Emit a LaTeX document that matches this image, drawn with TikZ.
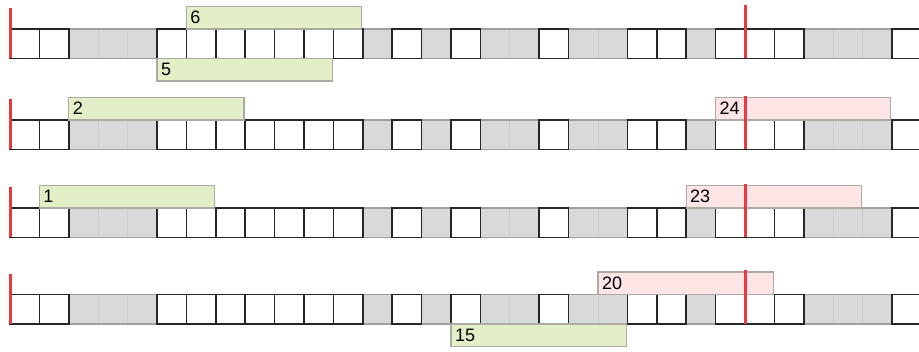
\documentclass[tikz,border=0pt]{standalone}
\usepackage{fontspec}
\setmainfont{Liberation Sans}
\usepackage{xcolor}
\usepackage{tikz}
\usetikzlibrary{positioning,calc}

\definecolor{slotgray}{HTML}{D9D9D9}
\definecolor{winred}{HTML}{E8393E}
\definecolor{boxgreen}{HTML}{E3EFC6}
\definecolor{boxpink}{HTML}{FDE4E5}
\definecolor{boxline}{HTML}{ABABA3}

\begin{document}
\begin{tikzpicture}[x=1pt, y=-1pt,
    cellw/.style={draw=black!85, line width=1.6pt, fill=white, minimum size=29.4pt, inner sep=0pt, outer sep=0pt, anchor=north west},
    cellg/.style={draw=gray!40, line width=1pt, fill=slotgray, minimum size=29.4pt, inner sep=0pt, outer sep=0pt, anchor=north west},
    rangebox/.style={draw=boxline, line width=1.2pt, minimum height=22.6pt, text width=167.2pt, inner xsep=4pt, inner ysep=0pt, outer sep=0pt, align=left, font=\fontsize{18}{18}\selectfont},
    greenbox/.style={rangebox, fill=boxgreen},
    pinkbox/.style={rangebox, fill=boxpink},
    winline/.style={winred, line width=3pt}
]
    \useasboundingbox (0,0) rectangle (919,351);

    % Rows of slots
    \foreach \r/\yt in {1/29,2/120,3/208,4/294.5} {
        \foreach \i in {2,3,4,12,14,16,17,19,20,23,27,28,29}
            \node[cellg] (c\r-\i) at ({10+\i*29.4},\yt) {};
        \draw[gray!75, line width=1.3pt] ({10+2*29.4},\yt) -- ({10+30*29.4},\yt)
            ({10+2*29.4},{\yt+29.4}) -- ({10+30*29.4},{\yt+29.4});
        \foreach \i in {0,1,5,6,7,8,9,10,11,13,15,18,21,22,24,25,26,30}
            \node[cellw] (c\r-\i) at ({10+\i*29.4},\yt) {};
    }

    % Ranges
    \node[greenbox, anchor=south west] (b6) at (c1-6.north west) {6};
    \node[greenbox, anchor=north west] (b5) at (c1-5.south west) {5};
    \node[greenbox, anchor=south west] (b2) at (c2-2.north west) {2};
    \node[pinkbox, anchor=south west] (b24) at (c2-24.north west) {24};
    \node[greenbox, anchor=south west] (b1) at (c3-1.north west) {1};
    \node[pinkbox, anchor=south west] (b23) at (c3-23.north west) {23};
    \node[pinkbox, anchor=south west] (b20) at (c4-20.north west) {20};
    \node[greenbox, anchor=north west] (b15) at (c4-15.south west) {15};

    % Window edges
    \foreach \r in {1,...,4} {
        \draw[winline] (c\r-0.south west) -- ([yshift=21pt]c\r-0.north west);
        \draw[winline] (c\r-25.south west) -- ([yshift=24.5pt]c\r-25.north west);
    }

\end{tikzpicture}
\end{document}
